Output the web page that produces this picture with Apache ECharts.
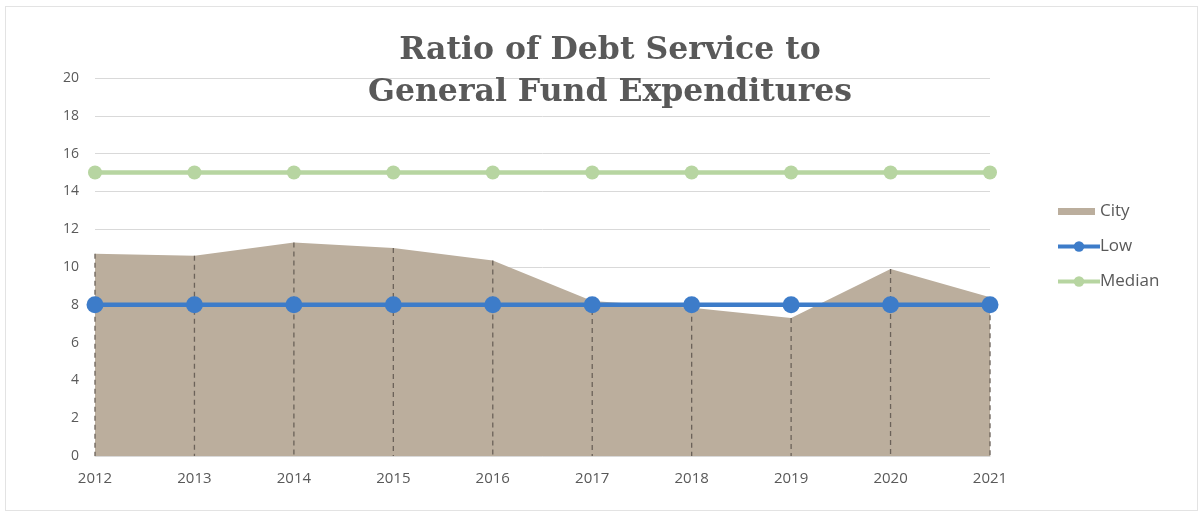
<!DOCTYPE html>
<html>
<head>
<meta charset="utf-8">
<style>
  html, body { margin: 0; padding: 0; background: #fff; }
  #frame { position: absolute; left: 5px; top: 6px; width: 1193px; height: 505px; border: 1px solid #e3e3e3; box-sizing: border-box; }
  #chart { position: absolute; left: 0; top: 0; width: 1201px; height: 514px; }
</style>
<script src="https://cdn.jsdelivr.net/npm/echarts@6/dist/echarts.min.js"></script>
</head>
<body>
<div id="frame"></div>
<div id="chart"></div>
<script>
// Fiscal years on the horizontal axis
const years = ['2012', '2013', '2014', '2015', '2016', '2017', '2018', '2019', '2020', '2021'];
// Debt service as a percentage of general fund expenditures
const cityValues = [10.7, 10.6, 11.3, 11.0, 10.35, 8.2, 7.85, 7.3, 9.9, 8.4];
const lowValues = [8, 8, 8, 8, 8, 8, 8, 8, 8, 8];
const medianValues = [15, 15, 15, 15, 15, 15, 15, 15, 15, 15];
const yTicks = { min: 0, max: 20, interval: 2 };

const textGray = '#595959';
const cityColor = '#bbae9d';
const lowColor = '#3d7cc9';
const medianColor = '#b7d5a1';
const labelFont = 'Open Sans';

const chart = echarts.init(document.getElementById('chart'), null, { renderer: 'canvas' });

chart.setOption({
  animation: false,
  backgroundColor: 'transparent',
  title: {
    text: 'Ratio of Debt Service to\nGeneral Fund Expenditures',
    left: 605,
    textAlign: 'center',
    top: 25,
    textStyle: {
      fontFamily: 'DejaVu Serif',
      fontWeight: 'bold',
      fontSize: 31.5,
      lineHeight: 42,
      color: textGray
    }
  },
  legend: {
    orient: 'vertical',
    left: 1051,
    top: 195,
    itemGap: 12,
    itemWidth: 42,
    itemHeight: 13,
    textStyle: { fontFamily: labelFont, fontSize: 17, lineHeight: 23, color: textGray, padding: [0, 0, 0, -5] },
    data: [
      // thin swatch inside a 42x13 box: the tiny corner squares fix the box size
      { name: 'City', icon: 'path://M0,0H0.01V0.01H0ZM0,3H37V10H0ZM42,13H41.99V12.99H42Z' },
      { name: 'Low', lineStyle: { width: 4 } },
      { name: 'Median', lineStyle: { width: 4 } }
    ]
  },
  grid: { left: 95, right: 211, top: 78, bottom: 58, containLabel: false },
  xAxis: {
    type: 'category',
    data: years,
    boundaryGap: false,
    axisLine: { show: true, lineStyle: { color: '#d9d9d9' } },
    axisTick: { show: false },
    axisLabel: { fontFamily: labelFont, fontSize: 15, color: textGray, margin: 15 },
    splitLine: { show: false }
  },
  yAxis: {
    type: 'value',
    min: yTicks.min,
    max: yTicks.max,
    interval: yTicks.interval,
    axisLine: { show: false },
    axisTick: { show: false },
    axisLabel: { fontFamily: labelFont, fontSize: 14, color: textGray, margin: 16 },
    splitLine: { lineStyle: { color: '#d9d9d9', width: 1 } }
  },
  series: [
    {
      name: 'City',
      type: 'line',
      data: cityValues,
      symbol: 'none',
      lineStyle: { width: 0 },
      itemStyle: { color: cityColor },
      areaStyle: { color: cityColor, opacity: 1 },
      z: 1
    },
    {
      // dashed drop lines from each City point down to the axis
      name: 'drop',
      type: 'custom',
      data: cityValues.map((v, i) => [i, v]),
      renderItem: function (params, api) {
        const top = api.coord([api.value(0), api.value(1)]);
        const bottom = api.coord([api.value(0), 0]);
        return {
          type: 'line',
          shape: { x1: top[0], y1: top[1], x2: bottom[0], y2: bottom[1] },
          style: { stroke: '#6b6259', lineWidth: 1.3, lineDash: [5, 4] }
        };
      },
      silent: true,
      z: 2
    },
    {
      name: 'Median',
      type: 'line',
      data: medianValues,
      symbol: 'circle',
      symbolSize: 14,
      lineStyle: { width: 4.5, color: medianColor },
      itemStyle: { color: medianColor },
      z: 3
    },
    {
      name: 'Low',
      type: 'line',
      data: lowValues,
      symbol: 'circle',
      symbolSize: 17,
      lineStyle: { width: 4.5, color: lowColor },
      itemStyle: { color: lowColor },
      z: 4
    }
  ]
});
</script>
</body>
</html>
